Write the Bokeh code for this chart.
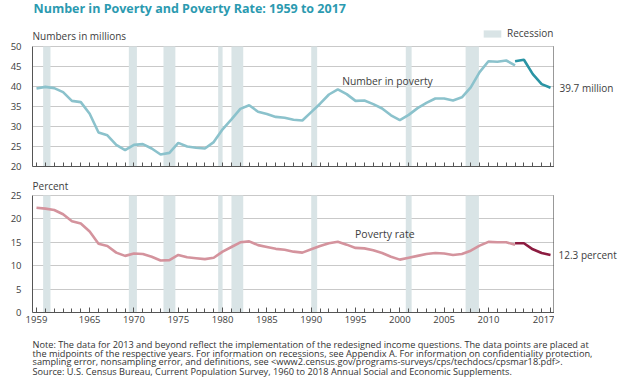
from bokeh.plotting import figure
from bokeh.models import Label, Range1d, FixedTicker, Legend, LegendItem
from bokeh.layouts import column, row
from bokeh.embed import file_html
from bokeh.resources import INLINE

# ---------------- data ----------------
years_old = list(range(1959, 2014))
years_new = list(range(2013, 2018))
number_old = [39.5, 39.9, 39.6, 38.6, 36.4, 36.1, 33.2, 28.5, 27.8, 25.4,
              24.1, 25.4, 25.6, 24.5, 23.0, 23.4, 25.9, 25.0, 24.7, 24.5,
              26.1, 29.3, 31.8, 34.4, 35.3, 33.7, 33.1, 32.4, 32.2, 31.7,
              31.5, 33.6, 35.7, 38.0, 39.3, 38.1, 36.4, 36.5, 35.6, 34.5,
              32.8, 31.6, 32.9, 34.6, 35.9, 37.0, 37.0, 36.5, 37.3, 39.8,
              43.6, 46.3, 46.2, 46.5, 45.3]
number_new = [46.3, 46.7, 43.1, 40.6, 39.7]
rate_old = [22.4, 22.2, 21.9, 21.0, 19.5, 19.0, 17.3, 14.7, 14.2, 12.8,
            12.1, 12.6, 12.5, 11.9, 11.1, 11.2, 12.3, 11.8, 11.6, 11.4,
            11.7, 13.0, 14.0, 15.0, 15.2, 14.4, 14.0, 13.6, 13.4, 13.0,
            12.8, 13.5, 14.2, 14.8, 15.1, 14.5, 13.8, 13.7, 13.3, 12.7,
            11.9, 11.3, 11.7, 12.1, 12.5, 12.7, 12.6, 12.3, 12.5, 13.2,
            14.3, 15.1, 15.0, 15.0, 14.5]
rate_new = [14.8, 14.8, 13.5, 12.7, 12.3]
# recessions, on an axis where each year's point sits at mid-year
rec_start = [1959.75, 1969.42, 1973.33, 1979.5, 1981.0, 1990.0, 2000.67, 2007.42]
rec_end = [1960.58, 1970.33, 1974.67, 1980.0, 1982.33, 1990.67, 2001.33, 2008.92]
label_years = [1959, 1965, 1970, 1975, 1980, 1985, 1990, 1995, 2000, 2005, 2010, 2017]
all_years = list(range(1959, 2018))
top_ticks = [20, 25, 30, 35, 40, 45, 50]
bot_ticks = [0, 5, 10, 15, 20, 25]

X_LO, X_HI = 1958.55, 2017.45
TOP_EXTRA = 61.5     # room above the 50 line for the title/legend
BOT_EXTRA = 29.06    # room above the 25 line for "Percent"

FONT = "Open Sans"
TXT = "#3d3d3d"
REC = "#d9e4e6"
GRID = "#c9c9c9"
AXIS = "#555555"


def style(p, yticks, show_xlabels):
    if show_xlabels:
        p.xaxis.ticker = FixedTicker(ticks=label_years, minor_ticks=all_years)
    else:
        p.xaxis.ticker = FixedTicker(ticks=[], minor_ticks=all_years)
    p.yaxis.ticker = FixedTicker(ticks=yticks)
    p.yaxis.bounds = (yticks[0], yticks[-1])
    p.xgrid.grid_line_color = None
    p.ygrid.grid_line_color = GRID
    p.ygrid.grid_line_width = 1
    for ax in (p.xaxis[0], p.yaxis[0]):
        ax.axis_line_color = AXIS
        ax.axis_line_width = 1
        ax.major_label_text_font = FONT
        ax.major_label_text_font_size = "9.5px"
        ax.major_label_text_color = TXT
    p.yaxis.major_tick_line_color = None
    p.yaxis.minor_tick_line_color = None
    p.yaxis.major_label_standoff = 5
    p.xaxis.major_tick_in = 5
    p.xaxis.major_tick_out = 0
    p.xaxis.minor_tick_in = 4
    p.xaxis.minor_tick_out = 0
    p.xaxis.major_tick_line_color = AXIS
    p.xaxis.minor_tick_line_color = AXIS
    p.xaxis.major_label_standoff = 3
    p.outline_line_color = None
    p.background_fill_color = "white"
    p.border_fill_color = "white"
    # right-hand frame edge
    p.segment(x0=[X_HI], y0=[yticks[0]], x1=[X_HI], y1=[yticks[-1]],
              line_color=AXIS, line_width=2.2)


def lbl(p, text, x, y, size="10px", color=TXT, align="left", baseline="middle",
        units="screen", bold=False, x_offset=0):
    p.add_layout(Label(x=x, y=y, x_units=units, y_units=units, text=text,
                       text_font=FONT, text_font_size=size, text_color=color,
                       text_align=align, text_baseline=baseline,
                       text_font_style="bold" if bold else "normal",
                       x_offset=x_offset))


def side(height, y_range, border_bottom):
    s = figure(width=72, height=height, x_range=Range1d(0, 72), y_range=y_range,
               output_backend="svg", toolbar_location=None,
               x_axis_location=None, y_axis_location=None,
               min_border_left=0, min_border_right=0, min_border_top=0,
               min_border_bottom=border_bottom)
    s.outline_line_color = None
    s.grid.visible = False
    return s


# ---------------- top chart ----------------
p1 = figure(width=554, height=176, x_range=Range1d(X_LO, X_HI),
            y_range=Range1d(top_ticks[0], TOP_EXTRA), output_backend="svg",
            toolbar_location=None, min_border_left=32, min_border_right=0,
            min_border_top=0, min_border_bottom=10)
rec1 = p1.quad(left=rec_start, right=rec_end, bottom=top_ticks[0], top=top_ticks[-1],
               fill_color=REC, line_color=None)
style(p1, top_ticks, False)
p1.line(years_old, number_old, line_color="#8bc2cc", line_width=2.6)
p1.line(years_new, number_new, line_color="#2a94a4", line_width=2.6)

leg = Legend(items=[LegendItem(label="Recession", renderers=[rec1])],
             location=(449, 126), orientation="horizontal",
             glyph_width=22, glyph_height=9, label_standoff=4, padding=0, margin=0,
             spacing=0, border_line_color=None, background_fill_alpha=0,
             label_text_font=FONT, label_text_font_size="10px",
             label_text_color=TXT, label_height=10)
p1.add_layout(leg, "center")

lbl(p1, "Number in Poverty and Poverty Rate: 1959 to 2017", 1, 158.5, size="12.5px",
    color="#2b9ab0", bold=True)
lbl(p1, "Numbers in millions", 0, 130.5)
lbl(p1, "Number in poverty", 1998.6, 41.5, size="10.3px", units="data", align="center")

p1r = side(176, p1.y_range, 10)
lbl(p1r, "39.7 million", 5, number_new[-1], units="data")

# ---------------- bottom chart ----------------
p2 = figure(width=554, height=156, x_range=Range1d(X_LO, X_HI),
            y_range=Range1d(bot_ticks[0], BOT_EXTRA), output_backend="svg",
            toolbar_location=None, min_border_left=32, min_border_right=0,
            min_border_top=0, min_border_bottom=20)
p2.quad(left=rec_start, right=rec_end, bottom=bot_ticks[0], top=bot_ticks[-1],
        fill_color=REC, line_color=None)
style(p2, bot_ticks, True)
p2.line(years_old, rate_old, line_color="#d4939d", line_width=2.6)
p2.line(years_new, rate_new, line_color="#8c1c40", line_width=2.6)

lbl(p2, "Percent", 0, 127)
lbl(p2, "Poverty rate", 1998.3, 16.7, size="10.5px", units="data", align="center")

p2r = side(156, p2.y_range, 20)
lbl(p2r, "12.3 percent", 4, rate_new[-1], units="data")

# ---------------- notes ----------------
pn = figure(width=626, height=58, x_range=Range1d(0, 626), y_range=Range1d(0, 58),
            output_backend="svg", toolbar_location=None,
            x_axis_location=None, y_axis_location=None,
            min_border_left=0, min_border_right=0, min_border_top=0, min_border_bottom=0)
pn.outline_line_color = None
pn.grid.visible = False
notes = [
    "Note: The data for 2013 and beyond reflect the implementation of the redesigned income questions. The data points are placed at",
    "the midpoints of the respective years. For information on recessions, see Appendix A. For information on confidentiality protection,",
    "sampling error, nonsampling error, and definitions, see <www2.census.gov/programs-surveys/cps/techdocs/cpsmar18.pdf>.",
]
for i, t in enumerate(notes):
    lbl(pn, t, 32, 46 - 8.5 * i, size="9.2px", color="#333333")
lbl(pn, "Source: U.S. Census Bureau, Current Population Survey, 1960 to 2018 Annual Social and Economic Supplements.",
    32, 19, size="9.2px", color="#333333")

layout = column(row(p1, p1r, spacing=0), row(p2, p2r, spacing=0), pn, spacing=0)
open("out.html", "w").write(file_html(layout, INLINE))
